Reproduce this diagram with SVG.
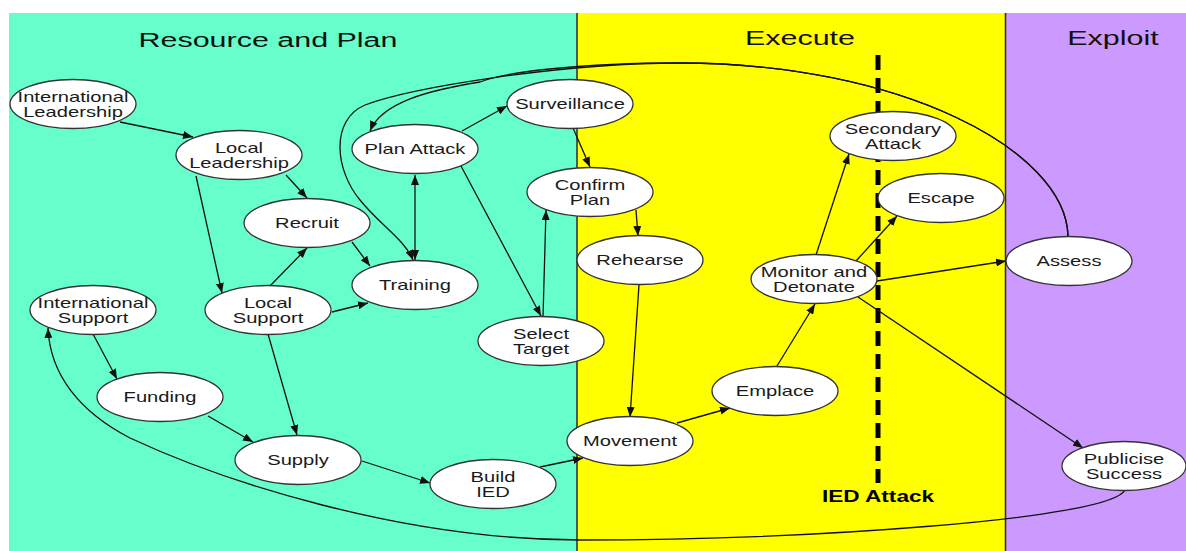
<svg xmlns="http://www.w3.org/2000/svg" width="1186" height="551" viewBox="0 0 1186 551">
  <defs>
    <style>
      .panel-sep { stroke: #2a2a2a; stroke-width: 1.5; }
      .title { font-family: "Liberation Sans", Arial, sans-serif; font-size: 21px; fill: #111; text-anchor: middle; }
      .node ellipse { fill: #ffffff; stroke: #333333; stroke-width: 1.3; }
      .node text { font-family: "Liberation Sans", Arial, sans-serif; font-size: 14px; fill: #1a1a1a; text-anchor: middle; }
      .edge { fill: none; stroke: #111111; stroke-width: 1.3; marker-end: url(#arrow); }
      .both { marker-start: url(#arrow); }
    </style>
    <marker id="arrow" viewBox="0 0 10 8" refX="10" refY="4" markerWidth="10" markerHeight="8" markerUnits="userSpaceOnUse" orient="auto-start-reverse">
      <path d="M0,0 L10,4 L0,8 z" fill="#111111"/>
    </marker>
  </defs>

  <!-- phase panels -->
  <rect x="0" y="0" width="1186" height="551" fill="#ffffff"/>
  <rect x="9" y="13" width="568" height="538" fill="#66FFCC"/>
  <rect x="577" y="13" width="428" height="538" fill="#FFFF00"/>
  <rect x="1005" y="13" width="181" height="538" fill="#CC99FF"/>
  <line class="panel-sep" x1="577" y1="13" x2="577" y2="551"/>
  <line class="panel-sep" x1="1005.5" y1="13" x2="1005.5" y2="551"/>

  <g id="titles">
    <text class="title" transform="translate(268,47) scale(1.45,1)">Resource and Plan</text>
    <text class="title" transform="translate(800,45) scale(1.45,1)">Execute</text>
    <text class="title" transform="translate(1113,45) scale(1.45,1)">Exploit</text>
  </g>

  <!-- IED attack boundary -->
  <g id="ied-attack">
    <line x1="878" y1="55" x2="878" y2="483" stroke="#000" stroke-width="5" stroke-dasharray="15 8"/>
    <text transform="translate(878,502) scale(1.33,1)" font-family="Liberation Sans, Arial, sans-serif" font-size="17" font-weight="bold" text-anchor="middle" fill="#000">IED Attack</text>
  </g>

  <g id="connectors">
    <path class="edge" d="M120,122 L193,137"/>
    <path class="edge" d="M286,175 L307,198"/>
    <path class="edge" d="M196,176 L222,293"/>
    <path class="edge" d="M270,286 L307,248"/>
    <path class="edge" d="M352,242 L370,266"/>
    <path class="edge" d="M332,312 L368,303"/>
    <path class="edge both" d="M415,175 L415,260"/>
    <path class="edge" d="M462,131 L507,106"/>
    <path class="edge" d="M461,166 L541,316"/>
    <path class="edge" d="M543,317 L546,210"/>
    <path class="edge" d="M573,128 L590,167"/>
    <path class="edge" d="M636,210 L638,236"/>
    <path class="edge" d="M639,285 L630,417"/>
    <path class="edge" d="M93,334 L117,379"/>
    <path class="edge" d="M208,416 L253,442"/>
    <path class="edge" d="M268,334 L297,435"/>
    <path class="edge" d="M362,461 L430,483"/>
    <path class="edge" d="M540,467 L583,458"/>
    <path class="edge" d="M677,423 L730,408"/>
    <path class="edge" d="M777,366 L815,304"/>
    <path class="edge" d="M816,255 L849,154"/>
    <path class="edge" d="M856,261 L897,216"/>
    <path class="edge" d="M877,281 L1006,261"/>
    <path class="edge" d="M858,297 L1083,448"/>
    <path class="edge" d="M1068,236 C1066,150 900,63 680,63 C580,63 505,72 480,82 C430,90 382,102 370,131"/>
    <path class="edge" d="M1068,236 C1066,150 900,63 680,63 C560,63 410,88 365,105 C330,120 335,170 360,200 C380,225 405,240 413,260"/>
    <path class="edge" d="M1125,490 C1110,520 800,540 580,540 C400,540 220,480 130,438 C80,412 50,375 48,328"/>
  </g>

  <g id="n-international-leadership" class="node" transform="translate(73,104)">
    <ellipse rx="63" ry="24.5"/>
    <text transform="translate(0,-2) scale(1.44,1)">International</text>
    <text transform="translate(0,13) scale(1.44,1)">Leadership</text>
  </g>
  <g id="n-local-leadership" class="node" transform="translate(239,155)">
    <ellipse rx="63" ry="24.5"/>
    <text transform="translate(0,-2) scale(1.44,1)">Local</text>
    <text transform="translate(0,13) scale(1.44,1)">Leadership</text>
  </g>
  <g id="n-recruit" class="node" transform="translate(307,223)">
    <ellipse rx="63" ry="24.5"/>
    <text transform="translate(0,5) scale(1.44,1)">Recruit</text>
  </g>
  <g id="n-training" class="node" transform="translate(415,285)">
    <ellipse rx="63" ry="24.5"/>
    <text transform="translate(0,5) scale(1.44,1)">Training</text>
  </g>
  <g id="n-local-support" class="node" transform="translate(268,310)">
    <ellipse rx="63" ry="24.5"/>
    <text transform="translate(0,-2) scale(1.44,1)">Local</text>
    <text transform="translate(0,13) scale(1.44,1)">Support</text>
  </g>
  <g id="n-international-support" class="node" transform="translate(93,310)">
    <ellipse rx="63" ry="24.5"/>
    <text transform="translate(0,-2) scale(1.44,1)">International</text>
    <text transform="translate(0,13) scale(1.44,1)">Support</text>
  </g>
  <g id="n-funding" class="node" transform="translate(160,397)">
    <ellipse rx="63" ry="24.5"/>
    <text transform="translate(0,5) scale(1.44,1)">Funding</text>
  </g>
  <g id="n-supply" class="node" transform="translate(298,460)">
    <ellipse rx="63" ry="24.5"/>
    <text transform="translate(0,5) scale(1.44,1)">Supply</text>
  </g>
  <g id="n-build-ied" class="node" transform="translate(493,484)">
    <ellipse rx="63" ry="24.5"/>
    <text transform="translate(0,-2) scale(1.44,1)">Build</text>
    <text transform="translate(0,13) scale(1.44,1)">IED</text>
  </g>
  <g id="n-plan-attack" class="node" transform="translate(415,149)">
    <ellipse rx="63" ry="24.5"/>
    <text transform="translate(0,5) scale(1.44,1)">Plan Attack</text>
  </g>
  <g id="n-surveillance" class="node" transform="translate(570,104)">
    <ellipse rx="63" ry="24.5"/>
    <text transform="translate(0,5) scale(1.44,1)">Surveillance</text>
  </g>
  <g id="n-confirm-plan" class="node" transform="translate(590,192)">
    <ellipse rx="63" ry="24.5"/>
    <text transform="translate(0,-2) scale(1.44,1)">Confirm</text>
    <text transform="translate(0,13) scale(1.44,1)">Plan</text>
  </g>
  <g id="n-select-target" class="node" transform="translate(541,341)">
    <ellipse rx="63" ry="24.5"/>
    <text transform="translate(0,-2) scale(1.44,1)">Select</text>
    <text transform="translate(0,13) scale(1.44,1)">Target</text>
  </g>
  <g id="n-rehearse" class="node" transform="translate(640,260)">
    <ellipse rx="63" ry="24.5"/>
    <text transform="translate(0,5) scale(1.44,1)">Rehearse</text>
  </g>
  <g id="n-movement" class="node" transform="translate(630,441)">
    <ellipse rx="63" ry="24.5"/>
    <text transform="translate(0,5) scale(1.44,1)">Movement</text>
  </g>
  <g id="n-emplace" class="node" transform="translate(775,391)">
    <ellipse rx="63" ry="24.5"/>
    <text transform="translate(0,5) scale(1.44,1)">Emplace</text>
  </g>
  <g id="n-monitor-detonate" class="node" transform="translate(814,279)">
    <ellipse rx="63" ry="24.5"/>
    <text transform="translate(0,-2) scale(1.44,1)">Monitor and</text>
    <text transform="translate(0,13) scale(1.44,1)">Detonate</text>
  </g>
  <g id="n-secondary-attack" class="node" transform="translate(893,136)">
    <ellipse rx="63" ry="24.5"/>
    <text transform="translate(0,-2) scale(1.44,1)">Secondary</text>
    <text transform="translate(0,13) scale(1.44,1)">Attack</text>
  </g>
  <g id="n-escape" class="node" transform="translate(941,198)">
    <ellipse rx="63" ry="24.5"/>
    <text transform="translate(0,5) scale(1.44,1)">Escape</text>
  </g>
  <g id="n-assess" class="node" transform="translate(1069,261)">
    <ellipse rx="63" ry="24.5"/>
    <text transform="translate(0,5) scale(1.44,1)">Assess</text>
  </g>
  <g id="n-publicise-success" class="node" transform="translate(1124,466)">
    <ellipse rx="62" ry="24.5"/>
    <text transform="translate(0,-2) scale(1.44,1)">Publicise</text>
    <text transform="translate(0,13) scale(1.44,1)">Success</text>
  </g>
</svg>
